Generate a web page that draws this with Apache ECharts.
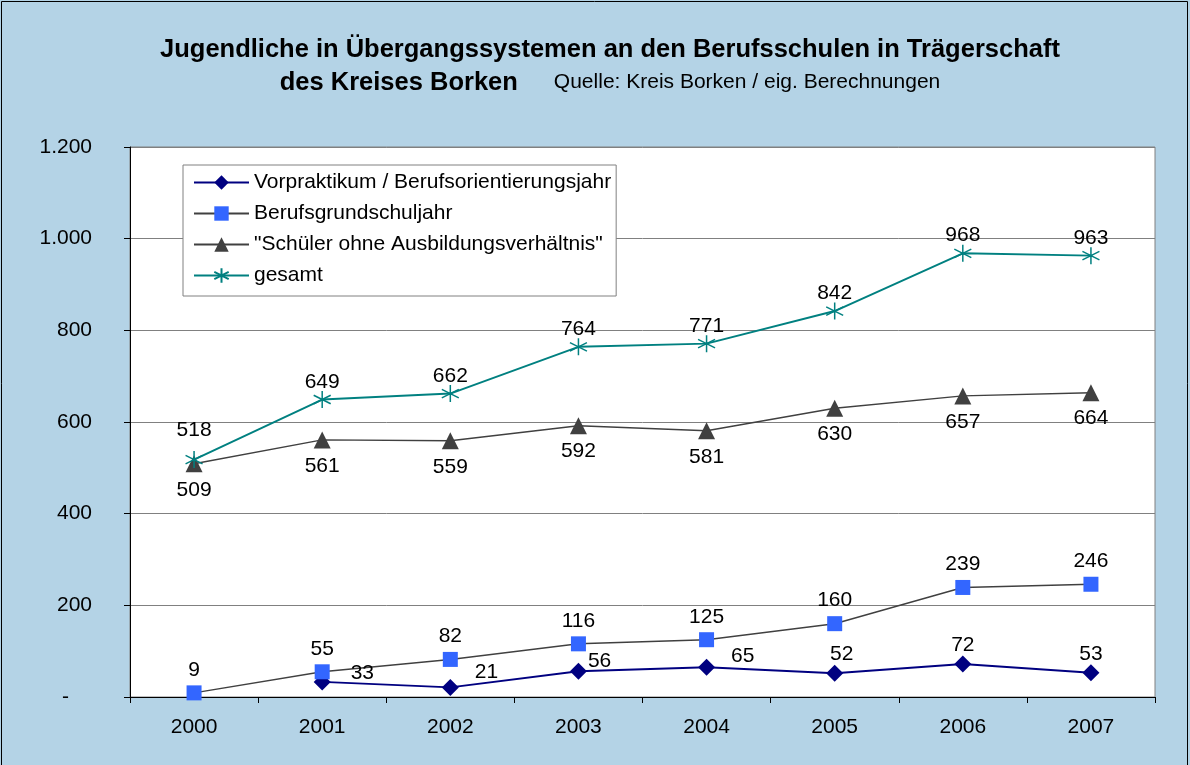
<!DOCTYPE html>
<html>
<head>
<meta charset="utf-8">
<script src="https://cdn.jsdelivr.net/npm/echarts@6/dist/echarts.min.js"></script>
<style>
  html, body { margin: 0; padding: 0; background: #b4d3e6; }
  #main { width: 1190px; height: 765px; }
</style>
</head>
<body>
<div id="main"></div>
<script>
var years = ['2000', '2001', '2002', '2003', '2004', '2005', '2006', '2007'];
var vorpraktikum = ['-', 33, 21, 56, 65, 52, 72, 53];
var berufsgrund = [9, 55, 82, 116, 125, 160, 239, 246];
var schueler = [509, 561, 559, 592, 581, 630, 657, 664];
var gesamt = [518, 649, 662, 764, 771, 842, 968, 963];

var names = ['Vorpraktikum / Berufsorientierungsjahr', 'Berufsgrundschuljahr',
  '"Schüler ohne Ausbildungsverhältnis"', 'gesamt'];

var fontFam = '"Liberation Sans", Arial, sans-serif';
var labelStyle = { show: true, fontSize: 21, color: '#000', fontFamily: fontFam };

// Sternchen-Marker wie in Excel
var starPath = 'path://M0,-10L0,10M-8.66,-5L8.66,5M-8.66,5L8.66,-5';

// Beschriftungen der Vorpraktikum-Punkte wie im Original verschoben
function vorLabel(i) {
  if (i === 1) return { position: 'right', distance: 20, offset: [0, -9] };
  if (i === 2) return { position: 'right', distance: 16, offset: [0, -15] };
  if (i === 3) return { position: 'right', distance: 1, offset: [0, -10] };
  if (i === 4) return { position: 'right', distance: 16, offset: [0, -11] };
  if (i === 5) return { position: 'top', distance: 0, offset: [7, 0] };
  return { position: 'top', distance: 0 };
}
var vorData = vorpraktikum.map(function (v, i) {
  return { value: v, label: vorLabel(i) };
});
var gesamtData = gesamt.map(function (v, i) {
  return i === 0 ? { value: v, label: { offset: [0, -12] } } : v;
});

var myChart = echarts.init(document.getElementById('main'));
var option = {
  backgroundColor: '#b4d3e6',
  animation: false,
  textStyle: { fontFamily: fontFam },
  title: {
    left: 605,
    top: 28,
    textAlign: 'center',
    text: '{b|Jugendliche in Übergangssystemen an den Berufsschulen in Trägerschaft}\n{b|des Kreises Borken}{n|Quelle: Kreis Borken / eig. Berechnungen}',
    textStyle: {
      rich: {
        b: { fontSize: 25.5, fontWeight: 'bold', color: '#000', lineHeight: 33, fontFamily: fontFam },
        n: { fontSize: 21, fontWeight: 'normal', color: '#000', lineHeight: 33, fontFamily: fontFam, padding: [0, 0, 0, 36] }
      }
    }
  },
  graphic: [{
    type: 'rect',
    shape: { x: 1.5, y: 1.5, width: 1186, height: 1000 },
    style: { fill: null, stroke: '#000', lineWidth: 1 },
    silent: true
  }],
  legend: {
    orient: 'vertical',
    left: 183,
    top: 165,
    padding: [7, 5, 10, 10],
    itemGap: 10,
    itemWidth: 55,
    itemHeight: 18,
    backgroundColor: '#fff',
    borderColor: '#808080',
    borderWidth: 1,
    textStyle: { fontSize: 21, color: '#000', fontFamily: fontFam },
    data: names
  },
  grid: {
    left: 130, right: 35, top: 147, bottom: 68,
    show: true, backgroundColor: '#fff', borderColor: '#808080', borderWidth: 1,
    containLabel: false
  },
  xAxis: {
    type: 'category',
    data: years,
    boundaryGap: true,
    axisLine: { lineStyle: { color: '#000', width: 1 } },
    axisTick: { show: true, length: 6, lineStyle: { color: '#000' } },
    axisLabel: { fontSize: 21, color: '#000', margin: 20, fontFamily: fontFam }
  },
  yAxis: {
    type: 'value',
    min: 0, max: 1200, interval: 200,
    axisLine: { show: true, lineStyle: { color: '#000', width: 1 } },
    axisTick: { show: true, length: 6, lineStyle: { color: '#000' } },
    splitLine: { lineStyle: { color: '#808080', width: 1 } },
    axisLabel: {
      fontSize: 21, color: '#000', margin: 38, fontFamily: fontFam,
      formatter: function (v) {
        if (v === 0) return '{d|-}';
        return String(v).replace(/\B(?=(\d{3})+(?!\d))/g, '.');
      },
      rich: {
        d: { fontSize: 21, color: '#000', fontFamily: fontFam, padding: [0, 23, 0, 0] }
      }
    }
  },
  series: [
    {
      name: names[0], type: 'line', data: vorData,
      symbol: 'diamond', symbolSize: 17,
      lineStyle: { color: '#000080', width: 2 },
      itemStyle: { color: '#000080' },
      label: Object.assign({}, labelStyle, { position: 'right' })
    },
    {
      name: names[1], type: 'line', data: berufsgrund,
      symbol: 'rect', symbolSize: 15,
      lineStyle: { color: '#404040', width: 1.5 },
      itemStyle: { color: '#3366ff' },
      label: Object.assign({}, labelStyle, { position: 'top', distance: 5 })
    },
    {
      name: names[2], type: 'line', data: schueler,
      symbol: 'triangle', symbolSize: 17,
      lineStyle: { color: '#404040', width: 1.5 },
      itemStyle: { color: '#404040' },
      label: Object.assign({}, labelStyle, { position: 'bottom', distance: 7 })
    },
    {
      name: names[3], type: 'line', data: gesamtData,
      symbol: starPath, symbolSize: 17,
      lineStyle: { color: '#008080', width: 2 },
      itemStyle: { color: '#008080', borderColor: '#008080', borderWidth: 1.5 },
      label: Object.assign({}, labelStyle, { position: 'top', distance: -2 })
    }
  ]
};
myChart.setOption(option);
</script>
</body>
</html>
